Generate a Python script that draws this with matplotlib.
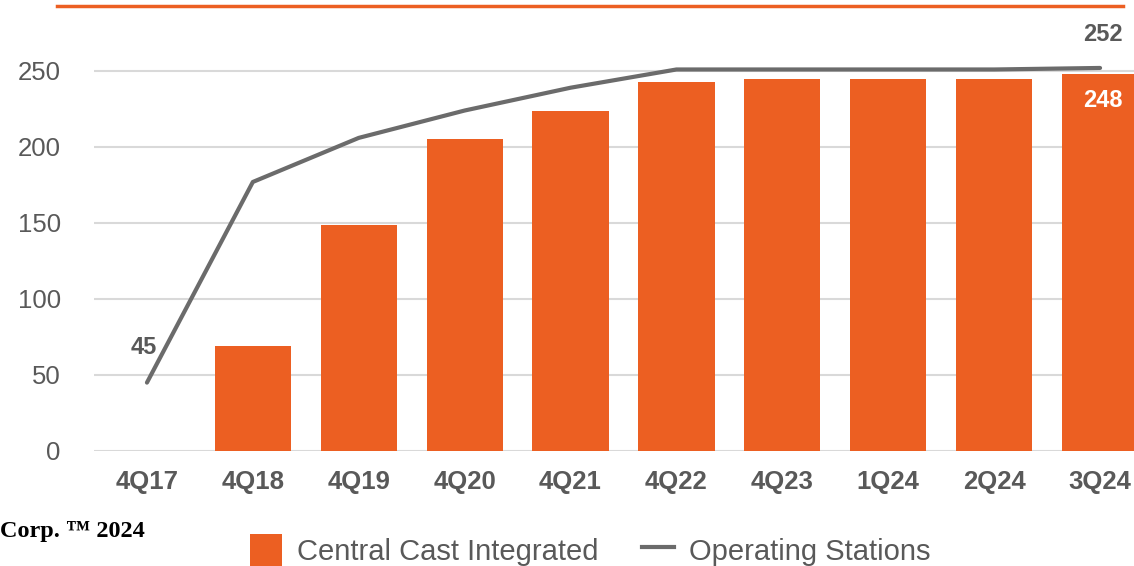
import matplotlib
matplotlib.use("Agg")
import matplotlib.pyplot as plt
from matplotlib.lines import Line2D
from matplotlib.patches import Patch

categories = ["4Q17", "4Q18", "4Q19", "4Q20", "4Q21", "4Q22", "4Q23", "1Q24", "2Q24", "3Q24"]
central_cast = [0, 69, 149, 205, 224, 243, 245, 245, 245, 248]
operating_stations = [45, 177, 206, 224, 239, 251, 251, 251, 251, 252]
y_ticks = [0, 50, 100, 150, 200, 250]

ORANGE = "#EC5F22"
GRAY = "#6B6B6B"
TEXT = "#595959"

plt.rcParams['font.family'] = ['Liberation Sans', 'DejaVu Sans']

W, H = 1134, 566
fig = plt.figure(figsize=(W / 100, H / 100), dpi=100)

def px(x0, y0, x1, y1):
    return [x0 / W, 1 - y1 / H, (x1 - x0) / W, (y1 - y0) / H]

ax = fig.add_axes(px(94, 33, 1153, 451))
x = list(range(len(categories)))
bar_vals = [v if v > 0 else 0 for v in central_cast]
ax.bar(x, bar_vals, width=0.72, color=ORANGE, zorder=2)
ax.plot(x, operating_stations, color=GRAY, lw=3, zorder=3, solid_capstyle='round')

ax.set_xlim(-0.5, len(categories) - 0.5)
ax.set_ylim(0, 275)
ax.set_yticks(y_ticks)
ax.grid(axis='y', color="#D9D9D9", lw=1.5, zorder=0)
ax.set_axisbelow(True)
for s in ax.spines.values():
    s.set_visible(False)
ax.tick_params(axis='both', length=0)
ax.tick_params(axis='y', labelsize=18.5, labelcolor=TEXT, pad=24)
ax.set_xticks(x)
ax.set_xticklabels(categories, fontsize=18.5, fontweight='bold', color=TEXT)
ax.tick_params(axis='x', pad=14)

# data labels
ax.annotate(str(operating_stations[0]), (x[0], operating_stations[0]), xytext=(-2, 17),
            textcoords='offset points', ha='center', va='bottom', fontsize=17,
            fontweight='bold', color=TEXT)
ax.annotate(str(operating_stations[-1]), (x[-1], operating_stations[-1]), xytext=(2, 15.5),
            textcoords='offset points', ha='center', va='bottom', fontsize=17,
            fontweight='bold', color=TEXT)
ax.annotate(str(central_cast[-1]), (x[-1], central_cast[-1]), xytext=(2, -19),
            textcoords='offset points', ha='center', va='center', fontsize=17,
            fontweight='bold', color='white')

# top orange rule
fig.add_artist(Line2D([57 / W, 1123 / W], [1 - 6 / H] * 2, color=ORANGE, lw=2.5))

# footer text
fig.text(0 / W, 1 - 532 / H, "Corp. \u2122 2024", family=['Liberation Serif', 'DejaVu Serif'],
         fontweight='bold', fontsize=17.5, color='black', va='center', ha='left')

handles = [Patch(facecolor=ORANGE, edgecolor='none'),
           Line2D([0], [0], color=GRAY, lw=3)]
fig.legend(handles, ["Central Cast Integrated", "Operating Stations"], loc='center',
           bbox_to_anchor=(590 / W, 1 - 550 / H), ncol=2, frameon=False,
           fontsize=21, labelcolor=TEXT, handlelength=1.1, handleheight=1.3,
           handletextpad=0.5, columnspacing=1.5)

fig.savefig("out.png", dpi=100)
